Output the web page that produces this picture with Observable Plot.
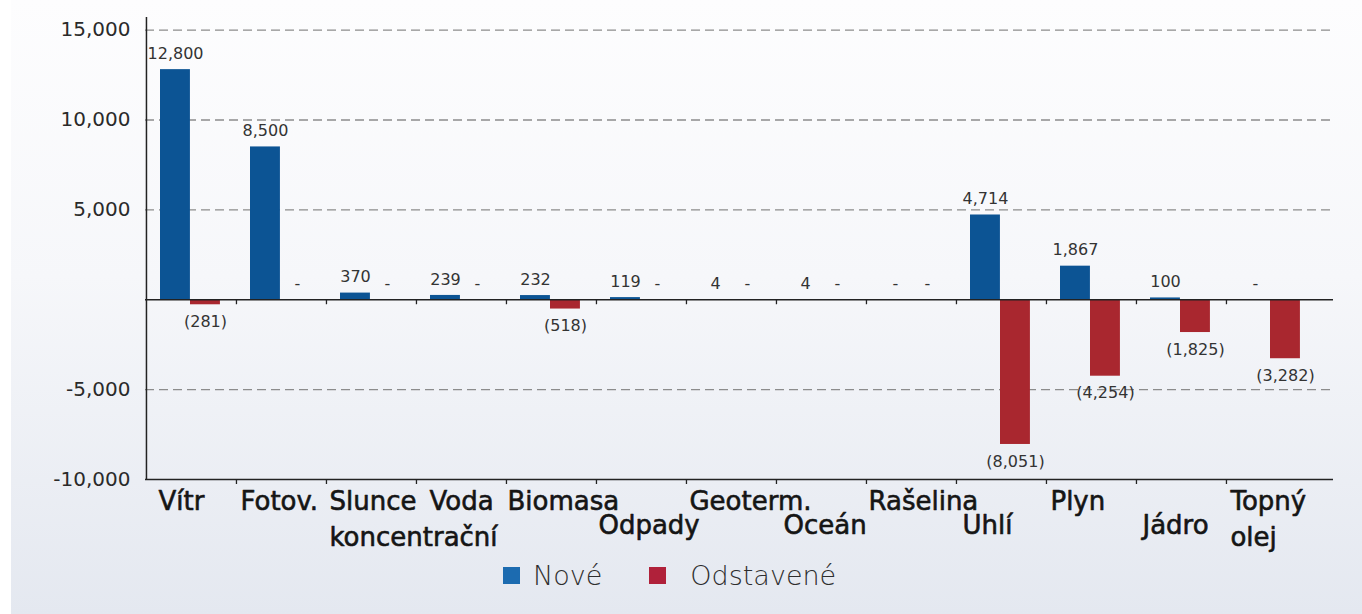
<!DOCTYPE html>
<html>
<head>
<meta charset="utf-8">
<script src="https://cdn.jsdelivr.net/npm/d3@7"></script>
<script src="https://cdn.jsdelivr.net/npm/@observablehq/plot@0.6"></script>
<style>
  html, body { margin: 0; padding: 0; }
  body {
    width: 1362px; height: 614px; overflow: hidden;
    background:
      linear-gradient(90deg, #ffffff 0 11px, transparent 11px),
      linear-gradient(180deg, #fdfdfe 0%, #f6f7fa 45%, #e4e8f0 100%);
  }
  #chart svg { display: block; background: transparent; }
  #legend {
    height: 40px; display: flex; align-items: center;
    padding-left: 503px; box-sizing: border-box;
    font-family: "DejaVu Sans", sans-serif; font-weight: 300; font-size: 27px; color: #2e2e2e;
  }
  .sw { width: 17px; height: 17px; display: inline-block; }
</style>
</head>
<body>
<div id="chart"></div>
<div id="legend">
  <span class="sw" style="background:#1c6bb0"></span><span style="margin-left:13px">Nové</span>
  <span class="sw" style="background:#b0213a;margin-left:47px"></span><span style="margin-left:24px">Odstavené</span>
</div>
<script>
// ---- data ----
const categories = ["Vítr", "Fotov.", "Slunce koncentrační", "Voda", "Biomasa", "Odpady", "Geoterm.", "Oceán", "Rašelina", "Uhlí", "Plyn", "Jádro", "Topný olej"];
const nove =      [12800, 8500, 370, 239, 232, 119, 4, 4, 0, 4714, 1867, 100, 0];
const odstavene = [-281, 0, 0, 0, -518, 0, 0, 0, 0, -8051, -4254, -1825, -3282];
const yTicks = [-10000, -5000, 5000, 10000, 15000];
const gridValues = [15000, 10000, 5000, -5000];

// ---- layout / style ----
const BLUE = "#0c5494", RED = "#a9272f";
const X0 = 145, X1 = 1316, BW = (X1 - X0) / categories.length;
const labelLayout = {
  "Vítr": {off: 12, rows: [0]},
  "Fotov.": {off: 4, rows: [0]},
  "Slunce koncentrační": {off: 3, rows: [0, 2]},
  "Voda": {off: 13, rows: [0]},
  "Biomasa": {off: 1, rows: [0]},
  "Odpady": {off: 2, rows: [1]},
  "Geoterm.": {off: 3, rows: [0]},
  "Oceán": {off: 7, rows: [1]},
  "Rašelina": {off: 2, rows: [0]},
  "Uhlí": {off: 6, rows: [1]},
  "Plyn": {off: 4, rows: [0]},
  "Jádro": {off: 6, rows: [1]},
  "Topný olej": {off: 4, rows: [0, 2]}
};
const rowDy = [12.5, 36.5, 48.5];

const fmt = v => Math.abs(v).toLocaleString("en-US");
const blueData = categories.map((c, i) => ({c, v: nove[i]}));
const redData = categories.map((c, i) => ({c, v: odstavene[i]}));

const valueFont = {fontFamily: "DejaVu Sans", fontSize: 16, fill: "#333", lineAnchor: "middle"};

const catMarks = [];
categories.forEach(c => {
  const lay = labelLayout[c];
  const words = c.split(" ");
  words.forEach((w, k) => {
    catMarks.push(Plot.text([c], {
      x: d => d, text: () => w,
      frameAnchor: "bottom", lineAnchor: "top", textAnchor: "start",
      dx: -BW / 2 + lay.off, dy: rowDy[lay.rows[k]],
      fontFamily: "DejaVu Sans", fontSize: 26, fill: "#151515",
      stroke: "#151515", strokeWidth: 0.6
    }));
  });
});

const chart = Plot.plot({
  width: 1362, height: 555,
  marginLeft: X0, marginRight: 29, marginTop: 17, marginBottom: 76,
  style: {background: "transparent", overflow: "visible"},
  x: {type: "band", domain: categories, range: [X0, X1], padding: 0, axis: null},
  y: {domain: [-10000, 15700], axis: null},
  marks: [
    Plot.ruleY(gridValues, {stroke: "#8c8c8c", strokeWidth: 1.4, strokeDasharray: "9,5"}),
    Plot.barY(blueData, {x: "c", y: "v", fill: BLUE, insetLeft: 14, insetRight: BW - 44}),
    Plot.barY(redData, {x: "c", y: "v", fill: RED, insetLeft: 44, insetRight: BW - 74}),
    Plot.ruleY([0], {stroke: "#222", strokeWidth: 1.5}),
    Plot.ruleY([-10000], {stroke: "#222", strokeWidth: 1.5}),
    Plot.ruleX([categories[0]], {x: d => d, dx: -BW / 2, y1: -10000, y2: 15700, stroke: "#222", strokeWidth: 1.5}),
    Plot.ruleX(categories.slice(1), {x: d => d, dx: -BW / 2, y1: 0, y2: 0, insetBottom: -5, stroke: "#222", strokeWidth: 1.3}),
    Plot.ruleX(categories.slice(1), {x: d => d, dx: -BW / 2, y1: -10000, y2: -10000, insetBottom: -5, stroke: "#222", strokeWidth: 1.3}),
    Plot.axisY(yTicks, {tickSize: 0, tickPadding: 15, tickFormat: d => d.toLocaleString("en-US"),
      fontFamily: "DejaVu Sans", fontSize: 20, fill: "#2a2a2a", label: null}),
    // blue labels
    Plot.text(blueData, {x: "c", y: "v", text: d => d.v === 0 ? "-" : fmt(d.v), dx: -16, dy: -16, ...valueFont}),
    // red labels (negative)
    Plot.text(redData.filter(d => d.v !== 0), {x: "c", y: "v", text: d => `(${fmt(d.v)})`, dx: 14, dy: 17, ...valueFont}),
    // red zero dashes
    Plot.text(redData.filter(d => d.v === 0), {x: "c", y: "v", text: () => "-", dx: 16, dy: -16, ...valueFont}),
    ...catMarks
  ]
});
document.getElementById("chart").appendChild(chart);
</script>
</body>
</html>
